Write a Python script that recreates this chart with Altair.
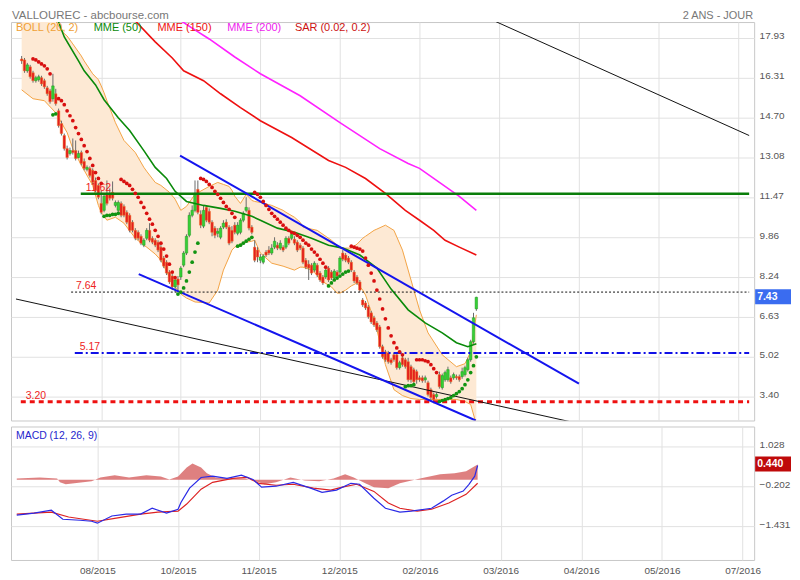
import altair as alt
import pandas as pd

FONT = "Liberation Sans"

# ---------------- axis / ticks ----------------
tick_idx = [28, 56, 84, 112, 140, 168, 196, 224, 252]
tick_lab = ["08/2015", "10/2015", "11/2015", "12/2015", "02/2016",
            "03/2016", "04/2016", "05/2016", "07/2016"]
price_ticks = [17.93, 16.31, 14.70, 13.08, 11.47, 9.86, 8.24, 6.63, 5.02, 3.40]
macd_ticks = [1.028, -0.202, -1.431]

# ---------------- candles (trading-day index 0..160) ----------------
opens = [17.08, 17.04, 16.60, 16.76, 16.52, 16.20, 16.24, 16.32, 16.20, 15.91,
         15.79, 15.47, 15.67, 14.98, 14.46, 13.98, 13.45, 13.25, 13.37, 13.37,
         13.09, 13.29, 12.93, 12.61, 12.65, 12.57, 12.16, 11.96, 11.23, 10.95,
         11.64, 11.64, 11.68, 11.15, 10.95, 11.23, 11.11, 10.87, 10.75, 10.47,
         10.14, 10.06, 9.90, 9.54, 9.82, 10.14, 9.82, 9.74, 9.66, 9.46,
         9.02, 8.85, 8.45, 8.29, 7.85, 8.17, 8.25, 8.73, 9.22, 9.94,
         10.75, 10.95, 11.80, 10.79, 10.31, 11.07, 10.91, 10.47, 10.23, 10.02,
         9.86, 10.27, 10.47, 10.27, 10.14, 10.35, 10.02, 10.06, 10.55, 10.95,
         10.95, 10.27, 9.46, 9.34, 8.93, 8.85, 9.26, 9.34, 9.22, 9.46,
         9.54, 9.42, 9.46, 9.46, 9.82, 9.82, 9.78, 9.66, 9.54, 9.42,
         8.93, 8.77, 8.73, 8.53, 8.73, 8.41, 8.25, 8.25, 8.61, 8.45,
         8.21, 8.45, 8.45, 9.22, 9.14, 9.02, 8.85, 8.45, 8.25, 8.05,
         7.32, 7.20, 7.04, 6.80, 6.60, 6.39, 6.23, 5.43, 5.22, 5.18,
         4.90, 5.10, 5.10, 4.58, 4.98, 4.90, 4.82, 4.62, 4.50, 4.42,
         4.17, 4.17, 4.09, 3.97, 3.69, 3.49, 3.41, 4.30, 3.77, 4.09,
         4.09, 4.17, 4.17, 4.22, 4.22, 4.22, 4.30, 4.50, 4.90, 5.63,
         6.96]
closes = [17.00, 16.60, 16.84, 16.36, 16.20, 16.32, 16.36, 16.07, 15.95, 15.67,
          15.35, 15.99, 15.27, 14.38, 14.06, 13.45, 13.09, 13.37, 13.29, 13.05,
          13.25, 12.85, 12.65, 12.69, 12.36, 12.08, 11.76, 11.48, 10.87, 11.52,
          11.23, 11.44, 11.44, 11.27, 11.27, 10.75, 10.75, 10.47, 10.14, 10.14,
          9.82, 9.82, 9.62, 9.74, 10.14, 9.74, 9.66, 9.54, 9.34, 8.93,
          8.69, 8.41, 8.05, 7.85, 8.13, 7.93, 8.61, 9.22, 9.90, 10.75,
          10.95, 11.64, 10.87, 10.35, 10.95, 10.55, 10.47, 10.06, 9.94, 10.10,
          10.23, 10.43, 10.27, 9.62, 9.70, 10.06, 10.35, 10.55, 10.83, 11.07,
          10.23, 10.06, 8.93, 9.06, 9.06, 9.10, 9.14, 9.22, 9.42, 9.70,
          9.42, 9.62, 9.34, 9.82, 9.62, 9.98, 9.62, 9.34, 9.42, 8.85,
          8.65, 8.61, 8.41, 8.81, 8.33, 8.13, 8.01, 8.53, 8.13, 8.21,
          8.49, 8.29, 9.02, 8.97, 8.93, 8.85, 8.53, 8.09, 8.01, 7.72,
          7.12, 7.00, 6.64, 6.43, 6.31, 6.11, 5.43, 5.02, 4.90, 4.82,
          4.78, 4.90, 4.58, 4.78, 4.70, 4.62, 4.09, 4.09, 4.01, 4.09,
          4.09, 4.05, 4.17, 3.49, 3.37, 3.29, 3.49, 3.81, 4.26, 4.38,
          4.50, 4.01, 4.30, 4.17, 4.09, 4.42, 4.58, 4.90, 5.63, 6.60,
          7.43]
highs = [17.20, 17.12, 16.92, 16.84, 16.60, 16.40, 16.44, 16.40, 16.28, 15.99,
         15.87, 16.48, 15.87, 15.07, 14.58, 14.06, 13.57, 13.49, 13.86, 13.78,
         13.37, 13.37, 13.05, 12.77, 12.73, 12.65, 12.28, 12.04, 11.76, 11.60,
         12.16, 11.84, 12.12, 11.35, 11.35, 11.31, 11.19, 10.95, 10.83, 10.55,
         10.23, 10.14, 9.98, 9.82, 10.23, 10.43, 9.90, 9.82, 9.74, 9.54,
         9.10, 8.93, 8.53, 8.37, 8.21, 8.29, 8.69, 9.30, 9.98, 10.87,
         11.15, 12.16, 12.16, 10.95, 11.15, 11.15, 11.03, 10.55, 10.31, 10.23,
         10.31, 10.55, 10.59, 10.35, 10.31, 10.47, 10.47, 10.63, 10.91, 11.48,
         11.07, 10.35, 9.74, 9.46, 9.18, 9.18, 9.34, 9.50, 9.58, 9.86,
         9.66, 9.74, 9.54, 9.90, 9.90, 10.02, 9.90, 9.74, 9.62, 9.50,
         9.02, 8.93, 8.81, 8.89, 8.81, 8.49, 8.33, 8.61, 8.69, 8.53,
         8.57, 8.53, 9.10, 9.34, 9.22, 9.10, 8.93, 8.53, 8.33, 8.13,
         7.40, 7.28, 7.12, 6.88, 6.68, 6.47, 6.31, 5.51, 5.30, 5.26,
         4.98, 5.18, 5.18, 4.86, 5.06, 4.98, 4.98, 4.70, 4.58, 4.50,
         4.26, 4.26, 4.26, 4.05, 3.77, 3.57, 3.57, 4.42, 4.34, 4.46,
         4.62, 4.26, 4.38, 4.30, 4.30, 4.58, 4.66, 4.98, 5.71, 6.80,
         7.45]
lows = [16.88, 16.52, 16.52, 16.28, 16.12, 16.12, 16.16, 15.99, 15.87, 15.59,
        15.27, 15.35, 15.19, 14.30, 13.98, 13.37, 13.01, 13.17, 13.21, 12.97,
        13.05, 12.77, 12.57, 12.53, 12.28, 12.00, 11.68, 11.40, 10.79, 10.87,
        11.15, 11.35, 11.35, 11.07, 10.87, 10.67, 10.67, 10.39, 10.06, 10.06,
        9.74, 9.74, 9.54, 9.46, 9.74, 9.66, 9.58, 9.46, 9.26, 8.85,
        8.61, 8.33, 7.97, 7.72, 7.64, 7.64, 8.13, 8.65, 9.14, 9.86,
        10.67, 10.87, 10.79, 10.23, 10.23, 10.47, 10.39, 9.90, 9.82, 9.86,
        9.78, 10.19, 10.19, 9.54, 9.62, 9.98, 9.94, 9.98, 10.47, 10.87,
        10.14, 9.98, 8.85, 8.85, 8.81, 8.77, 9.06, 9.14, 9.14, 9.38,
        9.34, 9.34, 9.26, 9.38, 9.54, 9.74, 9.54, 9.26, 9.34, 8.77,
        8.57, 8.13, 8.33, 8.45, 8.25, 8.05, 7.93, 8.17, 8.05, 8.13,
        8.13, 8.21, 8.37, 8.89, 8.85, 8.77, 8.45, 8.01, 7.93, 7.64,
        7.04, 6.92, 6.56, 6.35, 6.23, 6.03, 5.35, 4.94, 4.82, 4.74,
        4.70, 4.82, 4.50, 4.50, 4.62, 4.54, 4.01, 3.97, 3.93, 3.93,
        4.01, 3.97, 3.97, 3.41, 3.29, 3.21, 3.33, 3.73, 3.69, 4.01,
        4.01, 3.93, 4.09, 4.09, 4.01, 4.13, 4.22, 4.42, 4.82, 5.55,
        6.88]

# ---------------- Bollinger (20, 2) ----------------
boll_idx = [0, 4, 8, 12, 14, 16, 18, 21, 22, 25,
            27, 28, 29, 30, 33, 36, 40, 43, 44, 47,
            49, 52, 54, 56, 58, 61, 66, 69, 71, 73,
            74, 75, 77, 79, 81, 82, 84, 88, 92, 93,
            96, 98, 99, 102, 104, 105, 109, 111, 112, 114,
            116, 118, 120, 121, 124, 125, 128, 131, 134, 137,
            140, 143, 148, 153, 156, 158, 160]
boll_up = [19.34, 19.26, 19.10, 18.62, 18.21, 18.01, 17.69, 17.20, 17.00, 16.48,
           16.24, 15.99, 15.71, 15.39, 14.50, 13.78, 13.29, 12.69, 12.53, 12.08,
           11.96, 11.68, 11.40, 10.95, 11.11, 11.60, 11.92, 12.08, 12.00, 11.92,
           11.76, 11.52, 11.23, 11.60, 11.35, 11.31, 11.27, 11.15, 10.95, 10.87,
           10.67, 10.47, 10.27, 10.19, 10.14, 10.06, 9.74, 9.54, 9.42, 9.42,
           9.42, 9.58, 9.82, 9.90, 10.14, 10.19, 10.35, 10.14, 9.34, 8.13,
           6.92, 5.99, 5.10, 4.62, 4.74, 5.22, 6.72]
boll_lo = [15.83, 15.47, 15.39, 14.90, 14.50, 14.10, 13.45, 12.77, 12.57, 11.96,
           11.15, 10.87, 10.71, 10.55, 10.67, 10.43, 9.82, 9.54, 9.46, 9.18,
           8.93, 8.25, 7.85, 7.56, 7.40, 7.24, 7.20, 7.72, 8.53, 9.06,
           9.34, 9.46, 9.58, 9.66, 9.70, 9.74, 9.22, 8.81, 8.69, 8.65,
           8.53, 8.65, 8.65, 8.53, 8.33, 8.13, 7.85, 7.60, 7.60, 7.72,
           7.89, 8.01, 7.72, 7.52, 6.51, 6.11, 4.70, 3.69, 3.45, 3.33,
           3.29, 3.29, 3.29, 3.29, 3.21, 3.09, 2.28]

# ---------------- moving averages ----------------
mme50_idx = [11, 13, 15, 20, 22, 26, 29, 34, 38, 43, 47, 51, 54, 58, 64, 70, 75,
             81, 84, 90, 96, 102, 108, 113, 119, 125, 130, 136, 142, 148, 153, 157, 160]
mme50_val = [19.02, 18.58, 17.97, 17.00, 16.60, 16.03, 15.43, 14.70, 14.18, 13.37,
             12.69, 12.24, 11.72, 11.31, 11.15, 11.03, 10.91, 10.71, 10.55, 10.23,
             10.06, 9.82, 9.54, 9.42, 9.14, 8.61, 7.76, 6.92, 6.39, 5.99, 5.59, 5.43, 5.55]
mme150_idx = [37, 39, 47, 53, 57, 64, 70, 77, 84, 95, 108, 114, 121, 128, 135, 140,
              145, 149, 154, 160]
mme150_val = [18.94, 18.74, 17.77, 17.12, 16.60, 16.20, 15.67, 15.11, 14.58, 13.90,
              12.97, 12.69, 12.24, 11.64, 10.95, 10.55, 10.14, 9.74, 9.46, 9.14]
mme200_idx = [54, 60, 66, 75, 84, 98, 112, 126, 136, 140, 147, 154, 160]
mme200_val = [18.78, 18.33, 17.89, 17.16, 16.48, 15.59, 14.50, 13.45, 12.85, 12.65,
              12.08, 11.52, 10.95]

# ---------------- parabolic SAR (start index, side, values) ----------------
sar_segments = [
    (4, "down", [17.08, 17.04, 16.96, 16.88, 16.80, 16.68, 16.48]),
    (11, "up", [14.82, 14.86]),
    (13, "down", [15.47, 15.39, 15.23, 14.98, 14.78, 14.58, 14.30, 14.06, 13.82, 13.57,
                  13.33, 13.05, 12.77, 12.48, 12.24, 12.04]),
    (29, "up", [10.71, 10.75, 10.75, 10.79, 10.79, 10.83]),
    (35, "down", [12.20, 12.12, 12.04, 11.96, 11.80, 11.64, 11.48, 11.27, 11.07, 10.83,
                  10.59, 10.39, 10.14, 9.90, 9.62, 9.38, 9.10, 8.77, 8.45, 8.23]),
    (55, "up", [7.56, 7.64, 7.81, 8.09, 8.45, 8.85, 9.26, 9.62]),
    (63, "down", [12.24, 12.20, 12.12, 12.00, 11.88, 11.72, 11.60, 11.44, 11.27, 11.11,
                  10.99, 10.83, 10.67]),
    (76, "up", [9.50, 9.54, 9.62, 9.70, 9.78, 9.86]),
    (82, "down", [11.68, 11.60, 11.48, 11.31, 11.15, 10.99, 10.83, 10.71, 10.59, 10.47,
                  10.35, 10.23, 10.14, 10.06, 10.02, 9.94, 9.86, 9.74, 9.62, 9.54,
                  9.38, 9.26, 9.14, 8.97, 8.81, 8.65]),
    (108, "up", [7.89, 8.01, 8.13, 8.21, 8.29, 8.37, 8.45, 8.49]),
    (116, "down", [9.50, 9.46, 9.42, 9.38, 9.30, 9.02, 8.73, 8.41, 8.09, 7.72,
                   7.36, 6.96, 6.56, 6.19, 5.87, 5.59, 5.38, 5.22, 5.10]),
    (135, "up", [3.81, 3.85, 3.85, 3.89]),
    (139, "down", [4.90, 4.90, 4.90, 4.86, 4.82, 4.70, 4.54, 4.38]),
    (147, "up", [3.21, 3.25, 3.29, 3.33, 3.37, 3.45, 3.53, 3.61, 3.73, 3.89,
                 4.09, 4.38, 4.66, 5.02]),
]

# ---------------- drawn levels and trend lines ----------------
level_val = [11.62, 7.64, 5.17, 3.20]
level_start = [20.8, 17.4, 18.7, -0.3]
level_end = 256

trend_blue = {"i0": [55.75, 41.2], "v0": [13.17, 8.37], "i1": [196.1, 159.8], "v1": [3.93, 2.44]}
trend_black = {"i0": [164.0, -2.0], "v0": [18.74, 7.36], "i1": [256.0, 192.7], "v1": [13.98, 2.40]}

# ---------------- MACD (12, 26, 9) ----------------
macd_idx = [0, 6, 12, 16, 22, 26, 28, 33, 38, 43, 47, 52, 56, 57, 60, 64, 68, 73, 78, 82,
            85, 90, 96, 102, 106, 111, 116, 119, 124, 128, 133, 137, 144, 148, 151, 155,
            157, 159, 160]
macd_val = [-1.09, -1.03, -0.94, -1.22, -1.25, -1.28, -1.34, -1.12, -1.06, -1.06,
            -0.88, -1.03, -0.91, -0.70, -0.26, 0.07, 0.11, 0.04, 0.14, 0.01,
            -0.23, -0.20, -0.08, -0.26, -0.39, -0.32, -0.11, -0.14, -0.57, -0.88,
            -1.00, -0.97, -0.88, -0.66, -0.48, -0.35, -0.14, 0.11, 0.44]
sig_idx = [0, 12, 18, 28, 34, 43, 49, 56, 59, 64, 68, 75, 80, 84, 90, 96, 103, 109, 113,
           118, 124, 129, 133, 139, 144, 150, 156, 160]
sig_val = [-1.06, -1.00, -1.15, -1.28, -1.19, -1.06, -1.00, -0.97, -0.75, -0.29,
           -0.08, 0.04, 0.07, -0.11, -0.17, -0.14, -0.26, -0.32, -0.23, -0.14,
           -0.36, -0.72, -0.88, -0.97, -0.91, -0.72, -0.45, -0.11]
hist_idx = [0, 8, 14, 15, 17, 20, 26, 29, 34, 39, 45, 50, 53, 56, 59, 61, 64, 66, 69, 74,
            79, 83, 86, 90, 95, 100, 105, 110, 114, 117, 121, 124, 129, 133, 140, 147,
            152, 156, 160]
hist_val = [0.04, 0.07, 0.04, -0.08, -0.14, -0.11, -0.05, 0.07, 0.14, 0.07,
            0.14, 0.10, 0.01, 0.10, 0.38, 0.50, 0.38, 0.20, 0.07, 0.04,
            0.04, -0.05, -0.14, -0.08, 0.07, -0.02, -0.05, 0.04, 0.17, 0.07,
            -0.11, -0.23, -0.26, -0.11, 0.04, 0.17, 0.20, 0.26, 0.47]

# =============== build ===============
W, H_MAIN, H_MACD = 746, 400, 134
X_DOMAIN = [-2, 256]
Y_DOMAIN = [2.44, 18.575]
M_DOMAIN = [-2.476, 1.643]

xs = alt.Scale(domain=X_DOMAIN, nice=False, zero=False)
ys = alt.Scale(domain=Y_DOMAIN, nice=False, zero=False)
ms = alt.Scale(domain=M_DOMAIN, nice=False, zero=False)

x_axis_main = alt.Axis(values=tick_idx, labels=False, ticks=False, domain=False,
                       grid=True, title=None)
y_axis_main = alt.Axis(orient="right", values=price_ticks, format=".2f", ticks=False,
                       domain=False, grid=True, labelPadding=5, labelOffset=-2, title=None)
lab_expr = " : ".join(f"datum.value == {v} ? '{s}'" for v, s in zip(tick_idx, tick_lab)) + " : ''"
x_axis_macd = alt.Axis(values=tick_idx, labelExpr=lab_expr, ticks=False, domain=False,
                       grid=True, labelPadding=6, title=None)
y_axis_macd = alt.Axis(orient="right", values=macd_ticks, format=".3f", ticks=False,
                       domain=False, grid=True, labelPadding=5, labelOffset=-2, title=None)


def X(f):
    return alt.X(f, type="quantitative", scale=xs, axis=x_axis_main)


def Y(f):
    return alt.Y(f, type="quantitative", scale=ys, axis=y_axis_main)


def MX(f):
    return alt.X(f, type="quantitative", scale=xs, axis=x_axis_macd)


def MY(f):
    return alt.Y(f, type="quantitative", scale=ms, axis=y_axis_macd)


def ptext(s, x, y, color, size=11, align="left", weight="normal"):
    return alt.Chart(pd.DataFrame({"t": [s]})).mark_text(
        align=align, baseline="alphabetic", color=color, fontSize=size, font=FONT,
        fontWeight=weight).encode(x=alt.value(x), y=alt.value(y), text="t:N")


n = len(closes)
cdf = pd.DataFrame({"i": list(range(n)), "o": opens, "h": highs, "l": lows, "c": closes})
up_df = cdf[cdf.c >= cdf.o]
dn_df = cdf[cdf.c < cdf.o]

bdf = pd.DataFrame({"i": boll_idx, "up": boll_up, "lo": boll_lo})

rows = []
for start, side, vals in sar_segments:
    for k, v in enumerate(vals):
        rows.append({"i": start + k, "v": v, "side": side})
sdf = pd.DataFrame(rows)

layers = []
layers.append(alt.Chart(bdf).mark_area(color="#fde9d4", clip=True).encode(
    x=X("i"), y=Y("up"), y2="lo"))
layers.append(alt.Chart(bdf).mark_line(color="#f3a445", strokeWidth=1, clip=True).encode(
    x=X("i"), y=Y("up")))
layers.append(alt.Chart(bdf).mark_line(color="#f3a445", strokeWidth=1, clip=True).encode(
    x=X("i"), y=Y("lo")))

# candles
layers.append(alt.Chart(cdf).mark_rule(color="#6a6a6a", strokeWidth=1).encode(
    x=X("i"), y=Y("l"), y2="h"))
layers.append(alt.Chart(dn_df).mark_bar(size=2.5, color="#e31e1e", stroke="#f07a2a",
                                         strokeWidth=0.5).encode(x=X("i"), y=Y("o"), y2="c"))
layers.append(alt.Chart(up_df).mark_bar(size=2.5, color="#36cf36", stroke="#1f9a1f",
                                         strokeWidth=0.5).encode(x=X("i"), y=Y("o"), y2="c"))

# moving averages
for idx, vals, col in [(mme50_idx, mme50_val, "#0a8a0a"),
                       (mme150_idx, mme150_val, "#ee1111"),
                       (mme200_idx, mme200_val, "#ff22ff")]:
    mdf = pd.DataFrame({"i": idx, "v": vals})
    layers.append(alt.Chart(mdf).mark_line(color=col, strokeWidth=1.6, clip=True).encode(
        x=X("i"), y=Y("v")))

# levels
level_styles = [
    dict(color="#0a7d0a", strokeWidth=2.6),
    dict(color="#111111", strokeWidth=1, strokeDash=[2, 2]),
    dict(color="#1010e6", strokeWidth=2, strokeDash=[8, 3, 2, 3]),
    dict(color="#ee1111", strokeWidth=3, strokeDash=[5, 4]),
]
ldf = pd.DataFrame({"v": level_val, "start": level_start, "end": [level_end] * 4,
                    "lab": [f"{v:.2f}" for v in level_val]})
for k, st in enumerate(level_styles):
    layers.append(alt.Chart(ldf.iloc[[k]]).mark_rule(clip=True, **st).encode(
        x=X("start"), x2="end", y=Y("v")))

# trend lines
layers.append(alt.Chart(pd.DataFrame(trend_black)).mark_rule(
    color="#111111", strokeWidth=1, clip=True).encode(x=X("i0"), x2="i1", y=Y("v0"), y2="v1"))
layers.append(alt.Chart(pd.DataFrame(trend_blue)).mark_rule(
    color="#1414ee", strokeWidth=2, clip=True).encode(x=X("i0"), x2="i1", y=Y("v0"), y2="v1"))

# level labels
layers.append(alt.Chart(ldf).mark_text(align="left", baseline="alphabetic", dx=5, dy=-3,
                                        color="#ee2222", fontSize=10.5, font=FONT).encode(
    x=X("start"), y=Y("v"), text="lab:N"))

# SAR
layers.append(alt.Chart(sdf[sdf.side == "down"]).mark_circle(size=14, color="#d80f0f", opacity=1).encode(
    x=X("i"), y=Y("v")))
layers.append(alt.Chart(sdf[sdf.side == "up"]).mark_circle(size=14, color="#129412", opacity=1).encode(
    x=X("i"), y=Y("v")))

# last price tag
tag = alt.Chart(pd.DataFrame({"v": [closes[-1]], "t": [f"{closes[-1]:.2f}"]}))
layers.append(tag.mark_rect(color="#3a6cf0", yOffset=-8, y2Offset=7).encode(
    x=alt.value(747), x2=alt.value(783), y=Y("v"), y2="v"))
layers.append(tag.mark_text(align="left", baseline="middle", color="white", fontWeight="bold",
                            fontSize=10.5, font=FONT, dy=-0.5).encode(
    x=alt.value(749), y=Y("v"), text="t:N"))

# titles & legend
layers.append(ptext("VALLOUREC - abcbourse.com", 1, -3, "#777777", 11.5))
layers.append(ptext("2 ANS - JOUR", 745, -3, "#777777", 11, align="right"))
for s, x, col in [("BOLL (20, 2)", 5, "#f0a035"), ("MME (50)", 83, "#0a8a0a"),
                  ("MME (150)", 147, "#ee1111"), ("MME (200)", 217, "#ee22ee"),
                  ("SAR (0.02, 0.2)", 285, "#cc1111")]:
    layers.append(ptext(s, x, 9, col, 11))

main = alt.layer(*layers).properties(width=W, height=H_MAIN)

# ---- MACD panel ----
hdf = pd.DataFrame({"i": hist_idx, "h": hist_val, "z": [0.0] * len(hist_idx)})
mdf = pd.DataFrame({"i": macd_idx, "m": macd_val})
gdf = pd.DataFrame({"i": sig_idx, "s": sig_val})
mtag = alt.Chart(pd.DataFrame({"v": [macd_val[-1]], "t": [f"{macd_val[-1]:.3f}"]}))

macd_layers = [
    alt.Chart(hdf).mark_area(color="#d86a6a", opacity=0.85).encode(x=MX("i"), y=MY("h"), y2="z"),
    alt.Chart(gdf).mark_line(color="#dd2222", strokeWidth=1.2).encode(x=MX("i"), y=MY("s")),
    alt.Chart(mdf).mark_line(color="#2a2ae6", strokeWidth=1.2).encode(x=MX("i"), y=MY("m")),
    mtag.mark_rect(color="#bf0a0a", yOffset=-9, y2Offset=6).encode(
        x=alt.value(747), x2=alt.value(783), y=MY("v"), y2="v"),
    mtag.mark_text(align="left", baseline="middle", color="white", fontWeight="bold",
                   fontSize=10.5, font=FONT, dy=-1.5).encode(x=alt.value(749), y=MY("v"), text="t:N"),
    ptext("MACD (12, 26, 9)", 5, 13, "#2525cc", 10.5),
]
macd = alt.layer(*macd_layers).properties(width=W, height=H_MACD)

chart = alt.vconcat(main, macd, spacing=4).properties(
    padding={"left": 2, "top": 0, "right": 0, "bottom": 0}
).configure_view(stroke="#c8c8c8", strokeWidth=1).configure_axis(
    gridColor="#e1e1e1", gridWidth=1, labelFont=FONT, labelFontSize=10, labelColor="#555555"
)

chart.save("out.html", embed_options={"renderer": "svg", "actions": False})
